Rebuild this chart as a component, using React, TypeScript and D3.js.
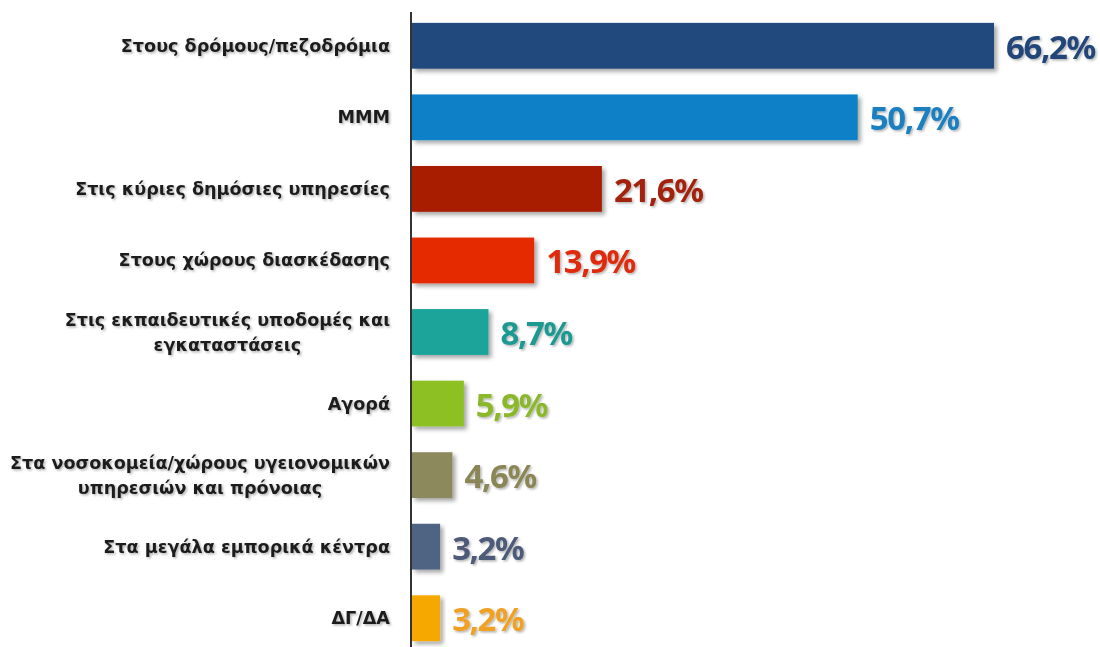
import React, { useEffect, useRef } from "react";
import * as d3 from "d3";

const categories: string[][] = [
  ["Στους δρόμους/πεζοδρόμια"],
  ["ΜΜΜ"],
  ["Στις κύριες δημόσιες υπηρεσίες"],
  ["Στους χώρους διασκέδασης"],
  ["Στις εκπαιδευτικές υποδομές και", "εγκαταστάσεις"],
  ["Αγορά"],
  ["Στα νοσοκομεία/χώρους υγειονομικών", "υπηρεσιών και πρόνοιας"],
  ["Στα μεγάλα εμπορικά κέντρα"],
  ["ΔΓ/ΔΑ"],
];
const values: number[] = [66.2, 50.7, 21.6, 13.9, 8.7, 5.9, 4.6, 3.2, 3.2];
const valueLabels: string[] = ["66,2%", "50,7%", "21,6%", "13,9%", "8,7%", "5,9%", "4,6%", "3,2%", "3,2%"];
const barColors: string[] = ["#21497e", "#0b80c8", "#a81e02", "#e52b03", "#1ba39a", "#8dc021", "#8c8a5c", "#4f6483", "#f7a800"];
const textColors: string[] = ["#24457a", "#1a7fc0", "#a2200a", "#de2c0a", "#1c9990", "#8ab82b", "#8a8656", "#4e5a78", "#f0a020"];

const W = 1100;
const H = 647;

export default function App() {
  const ref = useRef<SVGSVGElement | null>(null);

  useEffect(() => {
    const svg = d3.select(ref.current);
    svg.selectAll("*").remove();

    const defs = svg.append("defs");
    const f = defs.append("filter").attr("id", "shadow").attr("x", "-20%").attr("y", "-30%").attr("width", "140%").attr("height", "160%");
    f.append("feDropShadow").attr("dx", 3).attr("dy", 3).attr("stdDeviation", 2).attr("flood-color", "#000").attr("flood-opacity", 0.35);
    const ft = defs.append("filter").attr("id", "tshadow").attr("x", "-20%").attr("y", "-30%").attr("width", "140%").attr("height", "160%");
    ft.append("feDropShadow").attr("dx", 1.5).attr("dy", 1.5).attr("stdDeviation", 1).attr("flood-color", "#000").attr("flood-opacity", 0.3);

    const x0 = 412;
    const x = d3.scaleLinear().domain([0, 66.2]).range([x0, 994]);
    const y = d3.scaleBand<number>().domain(d3.range(values.length)).range([10, 654]).paddingInner(0.36).paddingOuter(0.18);

    const g = svg.append("g");

    g.selectAll("rect.bar")
      .data(values)
      .join("rect")
      .attr("class", "bar")
      .attr("x", x(0))
      .attr("y", (_, i) => y(i)!)
      .attr("width", (d) => x(d) - x(0))
      .attr("height", y.bandwidth())
      .attr("fill", (_, i) => barColors[i])
      .attr("filter", "url(#shadow)");

    // axis line
    svg.append("line")
      .attr("x1", x0 - 1).attr("x2", x0 - 1)
      .attr("y1", 12).attr("y2", H)
      .attr("stroke", "#333").attr("stroke-width", 2);

    // value labels
    g.selectAll("text.val")
      .data(values)
      .join("text")
      .attr("class", "val")
      .attr("x", (d) => x(d) + 12)
      .attr("y", (_, i) => y(i)! + y.bandwidth() / 2 + 13)
      .attr("fill", (_, i) => textColors[i])
      .attr("font-family", "'Noto Sans', sans-serif")
      .attr("font-weight", 700)
      .attr("font-size", 33)
      .attr("letter-spacing", -1.4)
      .attr("filter", "url(#tshadow)")
      .text((_, i) => valueLabels[i]);

    // category labels
    const right = 390;
    categories.forEach((lines, i) => {
      const cy = y(i)! + y.bandwidth() / 2;
      const lh = 25;
      const top = cy - ((lines.length - 1) * lh) / 2;
      const tg = svg.append("g").attr("filter", "url(#tshadow)");
      const texts = lines.map((ln, j) =>
        tg.append("text")
          .attr("y", top + j * lh + 6)
          .attr("font-family", "'DejaVu Sans', sans-serif")
          .attr("font-weight", 700)
          .attr("font-size", 17.6)
          .attr("fill", "#1e1e1e")
          .text(ln)
      );
      const widths = texts.map((t) => (t.node() as SVGTextElement).getComputedTextLength());
      const maxW = Math.max(...widths);
      const cx = right - maxW / 2;
      texts.forEach((t) => t.attr("x", cx).attr("text-anchor", "middle"));
    });
  }, []);

  return (
    <svg ref={ref} width={W} height={H} style={{ display: "block", position: "absolute", left: 0, top: 0, background: "#fff" }} />
  );
}
